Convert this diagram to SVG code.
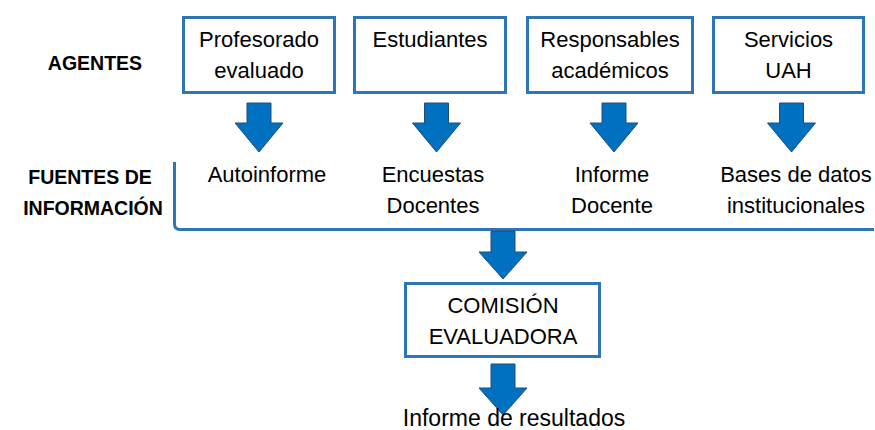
<svg xmlns="http://www.w3.org/2000/svg" width="875" height="430" viewBox="0 0 875 430">
<style>
.box{fill:#ffffff;stroke:#2E75B6;stroke-width:3}
.arr{fill:#0070C0;stroke:#1F4E79;stroke-width:1;stroke-linejoin:miter}
.t{font-family:"Liberation Sans",Arial,sans-serif;font-size:22px;fill:#000;text-anchor:middle}
.h{font-family:"Liberation Sans",Arial,sans-serif;font-size:19.5px;font-weight:bold;fill:#000;text-anchor:middle}
.line{fill:none;stroke:#2E75B6;stroke-width:3}
</style>
<rect width="875" height="430" fill="#ffffff"/>
<g id="labels">
<text class="h" x="95" y="70">AGENTES</text>
<text class="h" x="90" y="184">FUENTES DE</text>
<text class="h" x="93" y="215">INFORMACIÓN</text>
</g>
<g id="connectors">
<path class="line" d="M174.5,162 V224 Q174.5,229.5 180,229.5 H874"/>
<path class="arr" d="M247,103 H271 V123 H283 L259,152 L235,123 H247 Z"/>
<path class="arr" d="M424.5,103 H448.5 V123 H460.5 L436.5,152 L412.5,123 H424.5 Z"/>
<path class="arr" d="M602,103 H626 V123 H638 L614,152 L590,123 H602 Z"/>
<path class="arr" d="M779.5,103 H803.5 V123 H815.5 L791.5,152 L767.5,123 H779.5 Z"/>
<path class="arr" d="M491,231 H515 V252 H527 L503,279 L479,252 H491 Z"/>
<path class="arr" d="M491,364 H515 V388 H527 L503,415 L479,388 H491 Z"/>
</g>
<g id="profesorado">
<rect class="box" x="183.5" y="17.5" width="151" height="75"/>
<text class="t" x="259" y="47">Profesorado</text>
<text class="t" x="259" y="78">evaluado</text>
</g>
<g id="estudiantes">
<rect class="box" x="354.5" y="17.5" width="151" height="75"/>
<text class="t" x="430" y="47">Estudiantes</text>
</g>
<g id="responsables">
<rect class="box" x="527.5" y="17.5" width="165" height="75"/>
<text class="t" x="610" y="47">Responsables</text>
<text class="t" x="610" y="78">académicos</text>
</g>
<g id="servicios">
<rect class="box" x="713.5" y="17.5" width="150" height="75"/>
<text class="t" x="788.5" y="47">Servicios</text>
<text class="t" x="788.5" y="78">UAH</text>
</g>
<g id="autoinforme">
<text class="t" x="267" y="182">Autoinforme</text>
</g>
<g id="encuestas">
<text class="t" x="433" y="182">Encuestas</text>
<text class="t" x="433" y="213">Docentes</text>
</g>
<g id="informe-docente">
<text class="t" x="612" y="182">Informe</text>
<text class="t" x="612" y="213">Docente</text>
</g>
<g id="bases">
<text class="t" x="796" y="182">Bases de datos</text>
<text class="t" x="796" y="213">institucionales</text>
</g>
<g id="comision">
<rect class="box" x="405.5" y="283.5" width="194" height="73"/>
<text class="t" x="503" y="313">COMISIÓN</text>
<text class="t" x="503" y="344">EVALUADORA</text>
</g>
<g id="resultados">
<text class="t" x="514" y="426" style="font-size:23px">Informe de resultados</text>
</g>
</svg>
